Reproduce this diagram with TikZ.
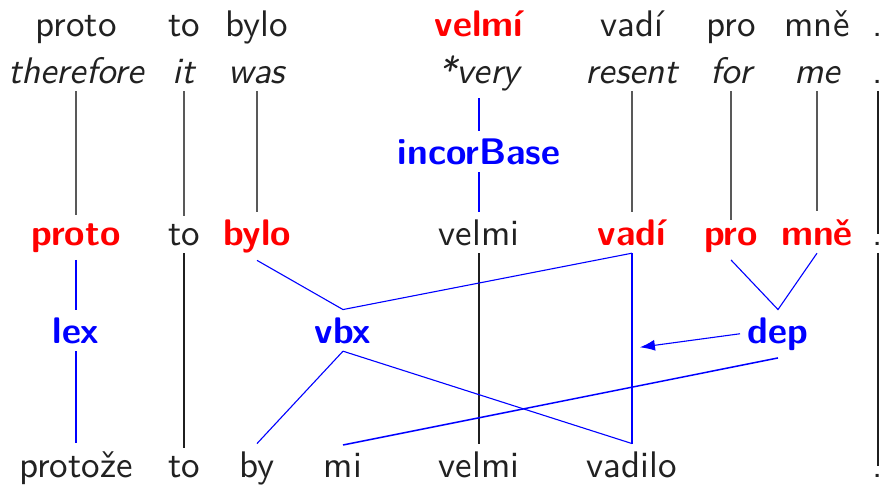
\documentclass[tikz,border=0pt]{standalone}
\usetikzlibrary{arrows.meta}
\definecolor{ink}{gray}{0.13}
\tikzset{
  wd/.style={anchor=base, scale=3.7, inner sep=1.9pt, text=ink,
             font=\sffamily\fontsize{10}{12}\selectfont},
  gl/.style={wd, font=\sffamily\itshape\fontsize{10}{12}\selectfont},
  hl/.style={wd, text=red, font=\sffamily\bfseries\fontsize{10}{12}\selectfont},
  rel/.style={wd, text=blue, font=\sffamily\bfseries\fontsize{10}{12}\selectfont},
  tie/.style={draw=black!65, line width=1.1pt},
  stay/.style={draw=black!88, line width=1.1pt},
  link/.style={draw=blue, line width=1.1pt},
}
\begin{document}
\begin{tikzpicture}[x=1pt, y=-1pt]
\useasboundingbox (0,0) rectangle (883,485);

% source sentence
\node[wd] (s1) at (76,36)  {proto};
\node[wd] (s2) at (184,36) {to};
\node[wd] (s3) at (257,36) {bylo};
\node[hl] (s4) at (479,36) {velmí};
\node[wd] (s5) at (632,36) {vadí};
\node[wd] (s6) at (731,36) {pro};
\node[wd] (s7) at (817,36) {mně};
\node[wd] (s8) at (878,36) {.};

% gloss
\node[gl] (g1) at (76,83)  {therefore};
\node[gl] (g2) at (184,83) {it};
\node[gl] (g3) at (257,83) {was};
\node[gl] (g4) at (479,83) {*very};
\node[gl] (g5) at (632,83) {resent};
\node[gl] (g6) at (731,83) {for};
\node[gl] (g7) at (817,83) {me};
\node[wd] (g8) at (878,83) {.};

% error tag
\node[rel] (inc) at (479,164) {incorBase};

% emended words
\node[hl] (m1) at (76,245)  {proto};
\node[wd] (m2) at (184,245) {to};
\node[hl] (m3) at (257,245) {bylo};
\node[wd] (m4) at (479,245) {velmi};
\node[hl] (m5) at (632,245) {vadí};
\node[hl] (m6) at (731,245) {pro};
\node[hl] (m7) at (817,245) {mně};
\node[wd] (m8) at (878,245) {.};

% correction tags
\node[rel] (lex) at (76,343)  {lex};
\node[rel] (vbx) at (343,343) {vbx};
\node[rel] (dep) at (778,343) {dep};

% target sentence
\node[wd] (t1) at (76,477)  {protože};
\node[wd] (t2) at (184,477) {to};
\node[wd] (t3) at (257,477) {by};
\node[wd] (t4) at (343,477) {mi};
\node[wd] (t5) at (479,477) {velmi};
\node[wd] (t6) at (632,477) {vadilo};
\node[wd] (t7) at (878,477) {.};

% gloss to emended words
\draw[tie] (g1.south) -- (m1.north);
\draw[tie] (g2.south) -- (m2.north);
\draw[tie] (g3.south) -- (m3.north);
\draw[link] (g4.south) -- (inc.north);
\draw[link] (inc.south) -- (m4.north);
\draw[tie] (g5.south) -- (m5.north);
\draw[tie] (g6.south) -- (m6.north);
\draw[tie] (g7.south) -- (m7.north);
\draw[stay] (g8.south) -- (m8.north);

% emended words to target
\draw[link] (m1.south) -- (lex.north);
\draw[link] (lex.south) -- (t1.north);
\draw[stay] (m2.south) -- (t2.north);
\draw[stay] (m4.south) -- (t5.north);
\draw[stay] (m8.south) -- (t7.north);

\draw[link] (m3.south) -- (vbx.north) -- (m5.south);
\draw[link] (m5.south) -- coordinate[pos=0.5] (vmid) (t6.north);
\draw[link] (vbx.south) -- (t3.north);
\draw[link] (vbx.south) -- (t6.north);

\draw[link] (m6.south) -- (dep.north) -- (m7.south);
\draw[link, line width=1.5pt] (dep.south) -- (t4.north);
\draw[link, -{Latex[length=15pt,width=11pt]}, shorten >=8pt] (dep.west) -- (vmid);
\end{tikzpicture}
\end{document}
